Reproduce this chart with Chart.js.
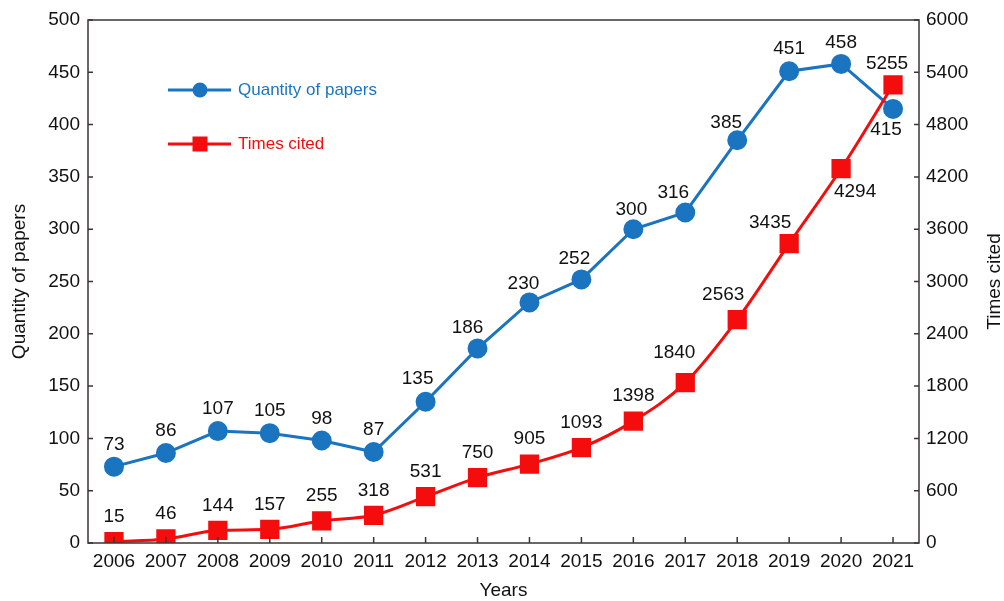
<!DOCTYPE html>
<html>
<head>
<meta charset="utf-8">
<script src="https://cdn.jsdelivr.net/npm/chart.js@4.4.1/dist/chart.umd.min.js"></script>
<style>
html,body{margin:0;padding:0;background:#fff;}
#wrap{width:1004px;height:601px;position:relative;}
</style>
</head>
<body>
<div id="wrap"><canvas id="c" width="1004" height="601"></canvas></div>
<script>
const years = ["2006","2007","2008","2009","2010","2011","2012","2013","2014","2015","2016","2017","2018","2019","2020","2021"];
const papers = [73, 86, 107, 105, 98, 87, 135, 186, 230, 252, 300, 316, 385, 451, 458, 415];
const cited = [15, 46, 144, 157, 255, 318, 531, 750, 905, 1093, 1398, 1840, 2563, 3435, 4294, 5255];
const leftTicks = [0, 50, 100, 150, 200, 250, 300, 350, 400, 450, 500];
const rightTicks = [0, 600, 1200, 1800, 2400, 3000, 3600, 4200, 4800, 5400, 6000];

const BLUE = '#1a74bf';
const RED = '#f50d0d';
const AXIS = '#3b3636';
const FONT = '"Liberation Sans", Arial, Helvetica, sans-serif';

// label offsets (style/position config for the data label plugin)
const labelOffsets = {
  0: {default: [0, -22], 6: [-8, -23], 7: [-10, -21], 8: [-6, -19], 9: [-7, -21], 10: [-2, -19], 11: [-12, -20], 12: [-11, -18], 14: [0, -21], 15: [-7, 21]},
  1: {default: [0, -25], 11: [-11, -30], 12: [-14, -25], 13: [-19, -21], 14: [14, 23], 15: [-6, -21]}
};

const overlay = {
  id: 'overlay',
  afterDatasetsDraw(chart) {
    const ctx = chart.ctx;
    const a = chart.chartArea;
    const yL = chart.scales.y, yR = chart.scales.y1, x = chart.scales.x;
    ctx.save();
    // frame
    ctx.strokeStyle = AXIS;
    ctx.lineWidth = 1.5;
    ctx.strokeRect(a.left, a.top, a.right - a.left, a.bottom - a.top);
    // inward ticks
    ctx.beginPath();
    leftTicks.forEach(v => { const p = yL.getPixelForValue(v); ctx.moveTo(a.left, p); ctx.lineTo(a.left + 5, p); });
    rightTicks.forEach(v => { const p = yR.getPixelForValue(v); ctx.moveTo(a.right, p); ctx.lineTo(a.right - 5, p); });
    years.forEach((y, i) => { const p = x.getPixelForValue(i); ctx.moveTo(p, a.bottom); ctx.lineTo(p, a.bottom - 6); });
    ctx.stroke();

    // data labels
    ctx.fillStyle = '#111';
    ctx.font = '19px ' + FONT;
    ctx.textAlign = 'center';
    ctx.textBaseline = 'middle';
    chart.data.datasets.forEach((ds, di) => {
      const meta = chart.getDatasetMeta(di);
      const offs = labelOffsets[di];
      meta.data.forEach((pt, i) => {
        const o = offs[i] || offs.default;
        ctx.fillText(String(ds.data[i]), pt.x + o[0], pt.y + o[1]);
      });
    });

    // axis titles
    ctx.fillStyle = '#111';
    ctx.font = '19px ' + FONT;
    ctx.textAlign = 'center';
    ctx.textBaseline = 'middle';
    const cy = (a.top + a.bottom) / 2;
    ctx.save(); ctx.translate(20, cy); ctx.rotate(-Math.PI / 2); ctx.fillText('Quantity of papers', 0, 0); ctx.restore();
    ctx.save(); ctx.translate(995, cy); ctx.rotate(-Math.PI / 2); ctx.fillText('Times cited', 0, 0); ctx.restore();
    ctx.fillText('Years', (a.left + a.right) / 2, 591);

    // legend
    const items = [
      {label: 'Quantity of papers', color: BLUE, style: 'circle', y: 90},
      {label: 'Times cited', color: RED, style: 'rect', y: 144}
    ];
    items.forEach(it => {
      ctx.strokeStyle = it.color;
      ctx.lineWidth = 3;
      ctx.beginPath(); ctx.moveTo(168, it.y); ctx.lineTo(231, it.y); ctx.stroke();
      ctx.fillStyle = it.color;
      if (it.style === 'circle') { ctx.beginPath(); ctx.arc(200, it.y, 7.5, 0, Math.PI * 2); ctx.fill(); }
      else { ctx.fillRect(192.5, it.y - 7.5, 15, 15); }
      ctx.font = '17px ' + FONT;
      ctx.textAlign = 'left';
      ctx.fillText(it.label, 238, it.y);
    });
    ctx.restore();
  }
};

new Chart(document.getElementById('c'), {
  type: 'line',
  data: {
    labels: years,
    datasets: [
      {label: 'Quantity of papers', data: papers, yAxisID: 'y', borderColor: BLUE, backgroundColor: BLUE,
       borderWidth: 3, pointStyle: 'circle', pointRadius: 8.5, pointHoverRadius: 8.5, tension: 0, order: 2},
      {label: 'Times cited', data: cited, yAxisID: 'y1', borderColor: RED, backgroundColor: RED,
       borderWidth: 3, pointStyle: 'rect', pointRadius: 11.5, pointHoverRadius: 11.5, cubicInterpolationMode: 'monotone', order: 1}
    ]
  },
  options: {
    responsive: false,
    animation: false,
    layout: {padding: {top: 20, left: 0, right: 0, bottom: 0}},
    plugins: {legend: {display: false}, tooltip: {enabled: false}},
    scales: {
      x: {
        type: 'category', offset: true,
        grid: {display: false, drawTicks: false},
        border: {display: false},
        ticks: {color: '#111', font: {family: FONT, size: 19}, padding: 7, maxRotation: 0, autoSkip: false},
        afterFit(s) { s.height = 58; }
      },
      y: {
        position: 'left', min: 0, max: 500,
        grid: {display: false, drawTicks: false},
        border: {display: false},
        ticks: {stepSize: 50, color: '#111', font: {family: FONT, size: 19}, padding: 8,
                callback: v => String(v)},
        afterFit(s) { s.width = 88; }
      },
      y1: {
        position: 'right', min: 0, max: 6000,
        grid: {display: false, drawTicks: false},
        border: {display: false},
        ticks: {stepSize: 600, color: '#111', font: {family: FONT, size: 19}, padding: 7,
                callback: v => String(v)},
        afterFit(s) { s.width = 85; }
      }
    }
  },
  plugins: [overlay]
});
</script>
</body>
</html>
